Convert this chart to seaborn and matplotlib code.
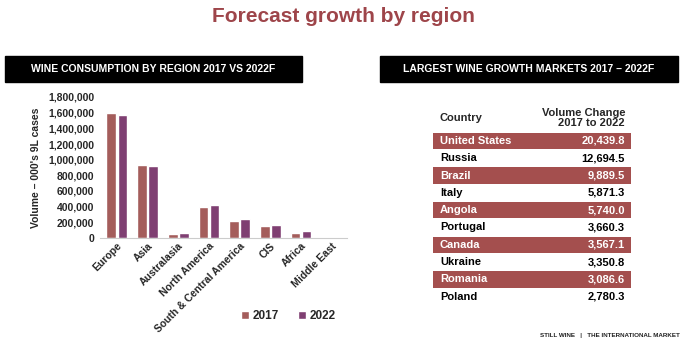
import matplotlib
matplotlib.use("Agg")
import matplotlib.pyplot as plt
import matplotlib.patches as mpatches
from matplotlib.ticker import FuncFormatter
import pandas as pd
import seaborn as sns

# bar chart data (000's 9L cases)
regions = ["Europe", "Asia", "Australasia", "North America",
           "South & Central America", "CIS", "Africa", "Middle East"]
vol_2017 = [1590000, 936000, 55000, 400000, 213000, 149000, 64000, 3000]
vol_2022 = [1566000, 923000, 68000, 425000, 238000, 170000, 89000, 4000]
years = ["2017", "2022"]

# table data
countries = ["United States", "Russia", "Brazil", "Italy", "Angola",
             "Portugal", "Canada", "Ukraine", "Romania", "Poland"]
changes = [20439.8, 12694.5, 9889.5, 5871.3, 5740.0,
           3660.3, 3567.1, 3350.8, 3086.6, 2780.3]

RED = "#b0514f"
PURPLE = "#8a3479"
BAND = "#a44f4e"
TITLE_C = "#9e454a"

sns.set_style("white")
plt.rcParams["font.family"] = ["Liberation Sans", "DejaVu Sans"]
plt.rcParams["font.weight"] = "bold"

W, H = 686, 351
fig = plt.figure(figsize=(W / 100, H / 100), dpi=100)

def fx(px):
    return px / W

def fy(py):
    return 1 - py / H

fig.text(0.5, fy(16), "Forecast growth by region", ha="center", va="center",
         fontsize=15, fontweight="bold", color=TITLE_C)

# header boxes
for x0, x1, label in [(5, 302, "WINE CONSUMPTION BY REGION 2017 VS 2022F"),
                      (380, 678, "LARGEST WINE GROWTH MARKETS 2017 \u2013 2022F")]:
    fig.patches.append(mpatches.Rectangle((fx(x0), fy(82)), fx(x1 - x0), (82 - 56) / H,
                                          transform=fig.transFigure, color="black"))
    fig.text(fx((x0 + x1) / 2), fy(69), label, ha="center", va="center",
             fontsize=7.5, fontweight="bold", color="white")

# --- bar chart ---
df = pd.DataFrame({
    "region": regions * 2,
    "year": [years[0]] * len(regions) + [years[1]] * len(regions),
    "volume": vol_2017 + vol_2022,
})
ax = fig.add_axes([fx(100), fy(238), fx(247), (238 - 97) / H])
sns.barplot(data=df, x="region", y="volume", hue="year", order=regions,
            palette=[RED, PURPLE], width=0.72, gap=0.12, ax=ax, legend=True)
ax.set_ylim(0, 1800000)
ax.set_xlim(-0.55, 7.5)
ax.set_yticks(range(0, 1800001, 200000))
ax.yaxis.set_major_formatter(FuncFormatter(lambda v, p: f"{int(v):,}"))
ax.set_xlabel("")
ax.set_ylabel("Volume \u2013 000's 9L cases", fontsize=7.5, fontweight="bold", labelpad=5)
ax.tick_params(axis="y", length=0, labelsize=7.5, pad=4)
ax.tick_params(axis="x", length=0, labelsize=7.5, pad=2)
for lab in ax.get_xticklabels():
    lab.set_rotation(45)
    lab.set_ha("right")
    lab.set_rotation_mode("anchor")
    lab.set_fontweight("bold")
for lab in ax.get_yticklabels():
    lab.set_fontweight("bold")
for s in ["top", "right", "left"]:
    ax.spines[s].set_visible(False)
ax.spines["bottom"].set_color("#cccccc")
ax.spines["bottom"].set_linewidth(0.8)
ax.legend(loc="center", bbox_to_anchor=(fx(288), fy(316)), bbox_transform=fig.transFigure,
          ncol=2, frameon=False, handlelength=0.7, handleheight=0.7,
          handletextpad=0.3, columnspacing=1.6, prop={"weight": "bold", "size": 8.5})

# --- table ---
tx = fig.add_axes([fx(433), fy(310), fx(198), 210 / H])
tx.set_xlim(0, 1)
tx.set_ylim(9.77, -2.37)
tx.axis("off")
tx.text(0.035, -1.35, "Country", ha="left", va="center", fontsize=8, fontweight="bold")
tx.text(0.97, -1.35, "Volume Change\n2017 to 2022", ha="right", va="center",
        fontsize=8, fontweight="bold", linespacing=1.0)
for i, (c, v) in enumerate(zip(countries, changes)):
    col = "black"
    if i % 2 == 0:
        tx.axhspan(i - 0.47, i + 0.47, color=BAND, lw=0)
        col = "white"
    tx.text(0.035, i, c, ha="left", va="center", fontsize=8, fontweight="bold", color=col)
    tx.text(0.97, i, f"{v:,.1f}", ha="right", va="center", fontsize=8,
            fontweight="bold", color=col)

fig.text(fx(680), fy(336), "STILL WINE   |   THE INTERNATIONAL MARKET", ha="right",
         va="center", fontsize=4.5, fontweight="bold", color="#222222")

fig.savefig("out.png", dpi=100)
